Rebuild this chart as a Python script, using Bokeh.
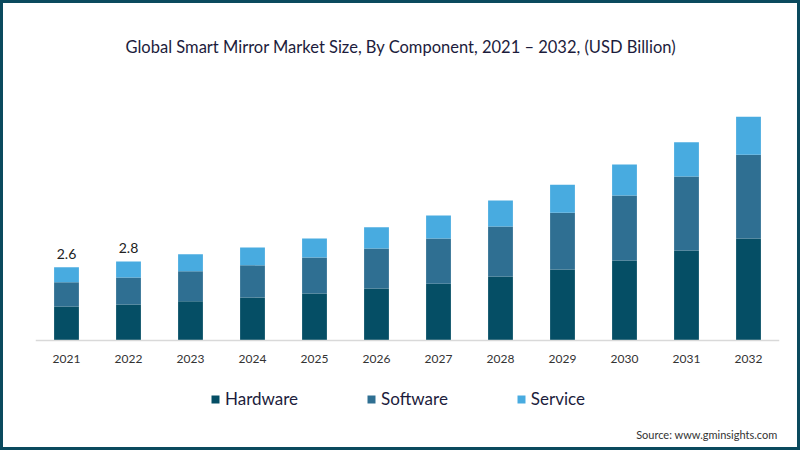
from bokeh.plotting import figure
from bokeh.models import Legend, LegendItem, Label, ColumnDataSource, FactorRange
from bokeh.core.properties import value
from bokeh.embed import file_html
from bokeh.resources import INLINE

years = ["2021", "2022", "2023", "2024", "2025", "2026", "2027", "2028", "2029", "2030", "2031", "2032"]
hardware = [1.21, 1.28, 1.39, 1.53, 1.67, 1.85, 2.02, 2.27, 2.52, 2.84, 3.20, 3.62]
software = [0.86, 0.96, 1.07, 1.14, 1.28, 1.42, 1.60, 1.78, 2.02, 2.31, 2.63, 2.98]
service = [0.53, 0.57, 0.60, 0.63, 0.67, 0.75, 0.82, 0.92, 0.99, 1.10, 1.21, 1.35]
series = ["Hardware", "Software", "Service"]
colors = ["#054e65", "#2f6f92", "#48abe0"]
label_years = ["2021", "2022"]
label_texts = ["2.6", "2.8"]

FONT = "Lato"

src = ColumnDataSource(dict(years=years, Hardware=hardware, Software=software, Service=service))

p = figure(x_range=FactorRange(*years, range_padding=0), y_range=(-4.014, 9.236),
           width=800, height=450, output_backend="svg", toolbar_location=None,
           min_border_left=32, min_border_right=24, min_border_top=77, min_border_bottom=0)
p.styles = {"border": "3px solid #0b4a5e"}
p.title.text = "Global Smart Mirror Market Size, By Component, 2021 \u2013 2032, (USD Billion)"
p.title.align = "left"
p.title.offset = 90
p.title.text_font = FONT
p.title.text_font_size = "16.5px"
p.title.text_font_style = "normal"
p.title.text_color = "#1c1c3c"
p.title.standoff = 47

renderers = p.vbar_stack(series, x="years", width=0.4, source=src, color=colors, line_width=0)

totals = {y: h + s + v for y, h, s, v in zip(years, hardware, software, service)}
lsrc = ColumnDataSource(dict(x=label_years, y=[totals[y] for y in label_years], t=label_texts))
p.text(x="x", y="y", text="t", source=lsrc, text_align="center", text_baseline="bottom",
       y_offset=-8, text_font=value(FONT), text_font_size="14px", text_color="#222222")

p.yaxis.visible = False
p.xgrid.grid_line_color = None
p.ygrid.grid_line_color = None
p.outline_line_color = None
xa = p.xaxis[0]
xa.fixed_location = 0
xa.axis_line_color = "#d9d9d9"
xa.axis_line_width = 1.5
xa.major_tick_line_color = None
xa.minor_tick_line_color = None
xa.major_label_text_font = FONT
xa.major_label_text_font_size = "12px"
xa.major_label_text_color = "#333333"
xa.major_label_standoff = 8

legend = Legend(items=[LegendItem(label=s, renderers=[r]) for s, r in zip(series, renderers)],
                orientation="horizontal", location=(175, 44), padding=0, margin=0, spacing=68,
                glyph_width=10, glyph_height=10, label_standoff=5,
                label_text_font=FONT, label_text_font_size="17px", label_text_color="#1c1c3c",
                background_fill_alpha=0, border_line_color=None)
p.add_layout(legend)

src_label = Label(x=742, y=19, x_units="screen", y_units="screen",
                  text="Source: www.gminsights.com", text_align="right", text_baseline="middle",
                  text_font=FONT, text_font_size="11px", text_color="#333333")
p.add_layout(src_label)

html = file_html(p, INLINE)
html = html.replace("<head>", "<head><style>html,body{margin:0;padding:0;overflow:hidden;}</style>", 1)
open("out.html", "w").write(html)
